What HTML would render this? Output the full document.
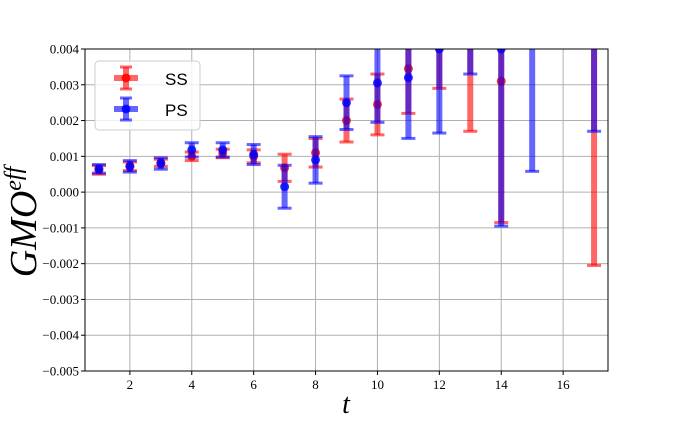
<!DOCTYPE html>
<html><head><meta charset="utf-8"><style>
body{margin:0;background:#fff;}
svg text{font-family:"Liberation Serif",serif;}
</style></head><body>
<svg id="chart" width="675" height="417" xmlns="http://www.w3.org/2000/svg">
<defs><clipPath id="clip"><rect x="85" y="49" width="523" height="322"/></clipPath></defs>
<rect x="85" y="49" width="523" height="322" fill="#fff"/>
<g id="grid"></g>
<g id="series" clip-path="url(#clip)"></g>
<rect x="85" y="49" width="523" height="322" fill="none" stroke="#000" stroke-width="1"/>
<g id="axes"></g>
<text x="346" y="413" font-size="28" font-style="italic" text-anchor="middle">t</text>
<text transform="translate(36,222) rotate(-90)" font-size="38" font-style="italic" text-anchor="middle">GMO<tspan font-size="24" dy="-15">eff</tspan></text>
<g>
<rect x="95" y="61" width="105" height="69" rx="4" fill="#fff" fill-opacity="0.8" stroke="#ccc"/>
<g>
<line x1="114" y1="78" x2="138" y2="78" stroke="red" stroke-opacity="0.6" stroke-width="6"/>
<line x1="126" y1="67" x2="126" y2="89" stroke="red" stroke-opacity="0.6" stroke-width="6"/>
<line x1="120" y1="67" x2="132" y2="67" stroke="red" stroke-opacity="0.6" stroke-width="3"/>
<line x1="120" y1="89" x2="132" y2="89" stroke="red" stroke-opacity="0.6" stroke-width="3"/>
<circle cx="126" cy="78" r="4.5" fill="red" fill-opacity="0.8"/>
<text x="165" y="85" font-size="17" style="font-family:'Liberation Sans',sans-serif">SS</text></g>
<g>
<line x1="114" y1="109" x2="138" y2="109" stroke="blue" stroke-opacity="0.6" stroke-width="6"/>
<line x1="126" y1="98" x2="126" y2="120" stroke="blue" stroke-opacity="0.6" stroke-width="6"/>
<line x1="120" y1="98" x2="132" y2="98" stroke="blue" stroke-opacity="0.6" stroke-width="3"/>
<line x1="120" y1="120" x2="132" y2="120" stroke="blue" stroke-opacity="0.6" stroke-width="3"/>
<circle cx="126" cy="109" r="4.5" fill="blue" fill-opacity="0.8"/>
<text x="165" y="116" font-size="17" style="font-family:'Liberation Sans',sans-serif">PS</text></g>
</g>
</svg>
<script>
const ssT=[1,2,3,4,5,6,7,8,9,10,11,12,13,14,17];
const ssVal=[0.00062,0.00072,0.00082,0.00100,0.00108,0.00100,0.00068,0.00110,0.00200,0.00245,0.00345,0.00460,0.00500,0.00310,0.00450];
const ssErr=[0.00012,0.00012,0.00010,0.00012,0.00012,0.00018,0.00038,0.00040,0.00060,0.00085,0.00125,0.00170,0.00330,0.00395,0.00655];
const psT=[1,2,3,4,5,6,7,8,9,10,11,12,13,14,15,17];
const psVal=[0.00065,0.00072,0.00080,0.00118,0.00118,0.00105,0.00015,0.00090,0.00250,0.00305,0.00320,0.00400,0.00550,0.00400,0.00500,0.00550];
const psErr=[0.00012,0.00016,0.00016,0.00020,0.00020,0.00028,0.00060,0.00065,0.00075,0.00110,0.00170,0.00235,0.00220,0.00495,0.00442,0.00380];
const xTicks=[2,4,6,8,10,12,14,16];
const yTicks=[0.004,0.003,0.002,0.001,0,-0.001,-0.002,-0.003,-0.004,-0.005];
const yTickLabels=["0.004","0.003","0.002","0.001","0.000","\u22120.001","\u22120.002","\u22120.003","\u22120.004","\u22120.005"];
const NS="http://www.w3.org/2000/svg";
const X0=85,X1=608,Y0=49,Y1=371,tMin=0.55,tMax=17.45,vMin=-0.005,vMax=0.004;
function xs(t){return X0+(t-tMin)/(tMax-tMin)*(X1-X0);}
function ys(v){return Y1-(v-vMin)/(vMax-vMin)*(Y1-Y0);}
function mk(tag,attrs,parent){const e=document.createElementNS(NS,tag);for(const k in attrs)e.setAttribute(k,attrs[k]);parent.appendChild(e);return e;}
const grid=document.getElementById('grid'),axes=document.getElementById('axes'),ser=document.getElementById('series');
xTicks.forEach(t=>{
 const g=mk('line',{x1:xs(t),x2:xs(t),y1:Y0,y2:Y1,stroke:'#b0b0b0','stroke-width':1},grid);
 
 
 mk('line',{x1:xs(t),x2:xs(t),y1:Y1,y2:Y1+4,stroke:'#000'},axes);
 const l=mk('text',{x:xs(t),y:Y1+18,'font-size':13,'text-anchor':'middle'},axes);l.textContent=t;
 
 
});
yTicks.forEach((v,i)=>{
 const g=mk('line',{x1:X0,x2:X1,y1:ys(v),y2:ys(v),stroke:'#b0b0b0','stroke-width':1},grid);
 
 
 mk('line',{x1:X0-4,x2:X0,y1:ys(v),y2:ys(v),stroke:'#000'},axes);
 const l=mk('text',{x:X0-6,y:ys(v)+4.5,'font-size':13,'text-anchor':'end'},axes);l.textContent=yTickLabels[i];
 
 
});
function drawSeries(ts,vals,errs,color,name){
 const g=mk('g',{},ser);
 
 
 ts.forEach((t,i)=>{
  const x=xs(t),yt=ys(vals[i]+errs[i]),yb=ys(vals[i]-errs[i]),y=ys(vals[i]);
  const eg=mk('g',{},g);
  
  
  mk('line',{x1:x,x2:x,y1:yt,y2:yb,stroke:color,'stroke-opacity':0.6,'stroke-width':6},eg);
  mk('line',{x1:x-7,x2:x+7,y1:yt,y2:yt,stroke:color,'stroke-opacity':0.6,'stroke-width':3},eg);
  mk('line',{x1:x-7,x2:x+7,y1:yb,y2:yb,stroke:color,'stroke-opacity':0.6,'stroke-width':3},eg);
  const c=mk('circle',{cx:x,cy:y,r:4.5,fill:color,'fill-opacity':0.8},eg);
  
  
 });
}
drawSeries(ssT,ssVal,ssErr,'red','ss');
drawSeries(psT,psVal,psErr,'blue','ps');
</script>
</body></html>
